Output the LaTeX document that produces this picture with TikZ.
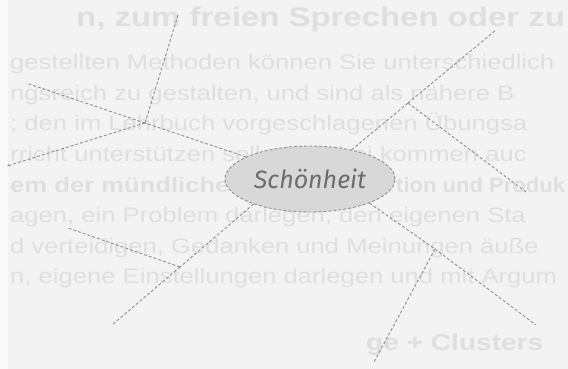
\documentclass[tikz,border=0pt]{standalone}
\usepackage{fontspec}
\setmainfont{Liberation Sans}
\newfontfamily\handfont{Fira Sans}
\usetikzlibrary{arrows.meta, positioning, shapes.geometric, calc}
\definecolor{pagegray}{HTML}{F3F3F3}
\definecolor{ghostgray}{HTML}{DFDFDF}
\definecolor{dashgray}{HTML}{8E8E8E}
\definecolor{bubblegray}{HTML}{D8D8D8}
\definecolor{inkgray}{HTML}{6C6C6C}

\tikzset{
  spoke/.style={dashgray, line width=0.9pt, dash pattern=on 3pt off 2pt},
  ghost/.style={anchor=base west, inner sep=0pt, text=ghostgray, xscale=1.22,
    font=\fontsize{21}{21}\selectfont},
  ghostbold/.style={ghost, font=\bfseries\fontsize{21}{21}\selectfont},
}

\begin{document}
\begin{tikzpicture}[x=1pt, y=-1pt]
  \useasboundingbox (0,0) rectangle (568,369);
  \fill[pagegray] (0,0) rectangle (568,369);
  \fill[white, opacity=0.6] (0,0) rectangle (8,369);

  % faded print of the page behind the sketch
  \begin{scope}
    \clip (0,0) rectangle (568,369);
    \node[ghostbold, font=\bfseries\fontsize{27}{27}\selectfont] (ln1) at (76,27) {n, zum freien Sprechen oder zu};
    \node[ghost] (ln2) at (10,70) {gestellten Methoden können Sie unterschiedlich};
    \node[ghost] (ln3) at (10,100.5) {ngsreich zu gestalten, und sind als nähere B};
    \node[ghost] (ln4) at (10,131) {; den im Lehrbuch vorgeschlagenen Übungsa};
    \node[ghost] (ln5) at (10,161.5) {rricht unterstützen sollen. Dabei kommen auc};
    \node[ghostbold] (ln6a) at (10,192) {em der mündlichen};
    \node[ghostbold, xscale=0.86] (ln6b) at (396,192) {tion und Produk};
    \node[ghost] (ln7) at (10,222.5) {agen, ein Problem darlegen, den eigenen Sta};
    \node[ghost] (ln8) at (10,253) {d verteidigen, Gedanken und Meinungen äuße};
    \node[ghost] (ln9) at (10,283.5) {n, eigene Einstellungen darlegen und mit Argum};
    \node[ghostbold, font=\bfseries\fontsize{23}{23}\selectfont] (ln10) at (366,350) {ge + Clusters};
  \end{scope}

  % centre bubble
  \node[ellipse, draw=dashgray, line width=0.9pt, dash pattern=on 3pt off 2pt,
    fill=bubblegray, inner sep=0pt, minimum width=170pt, minimum height=66pt,
    text=inkgray, font=\handfont\itshape\fontsize{25}{25}\selectfont]
    (schoen) at (310,179) {Schönheit};

  % junctions and free ends of the spokes
  \coordinate (jnw) at (145,123);
  \coordinate (jsw) at (180,267);
  \coordinate (jne) at (408,103);
  \coordinate (jse) at (435,249);
  \coordinate (nwtop) at (178,15);
  \coordinate (nwleft) at (26,83);
  \coordinate (nwfar) at (7,166);
  \coordinate (swleft) at (68,228);
  \coordinate (swlow) at (112,325);
  \coordinate (netop) at (496,30);
  \coordinate (neright) at (526,192);
  \coordinate (selow) at (374,362);
  \coordinate (seright) at (536,325);

  % spokes
  \draw[spoke] (schoen.161) -- (jnw);
  \draw[spoke] (jnw) -- (nwtop);
  \draw[spoke] (jnw) -- (nwleft);
  \draw[spoke, -{Latex[length=2.5pt, width=2.5pt]}] (jnw) -- (nwfar);
  \draw[spoke] (schoen.204) -- (jsw);
  \draw[spoke] (jsw) -- (swleft);
  \draw[spoke] (jsw) -- (swlow);
  \draw[spoke] (schoen.35) -- (jne);
  \draw[spoke] (jne) -- (netop);
  \draw[spoke] (jne) -- (neright);
  \draw[spoke] (schoen.-22) -- (jse);
  \draw[spoke] (jse) -- (selow);
  \draw[spoke] (jse) -- (seright);
\end{tikzpicture}
\end{document}
